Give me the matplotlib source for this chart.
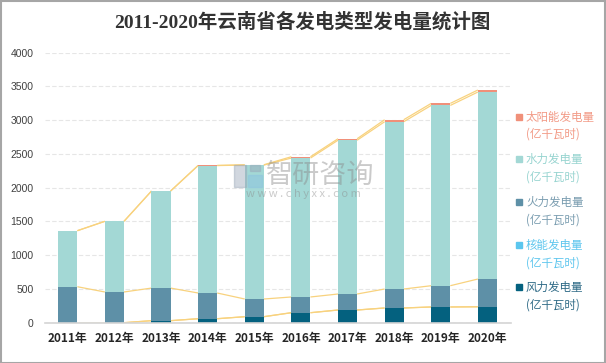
import matplotlib
matplotlib.use("Agg")
import matplotlib.pyplot as plt
from matplotlib.patches import Rectangle
import numpy as np

plt.rcParams['font.family'] = ['Noto Sans CJK SC', 'DejaVu Sans']

years = ["2011年", "2012年", "2013年", "2014年", "2015年", "2016年", "2017年", "2018年", "2019年", "2020年"]
wind = [0, 0, 30, 59, 89, 148, 188, 218, 233, 236]
nuclear = [0, 0, 0, 0, 0, 0, 0, 0, 0, 0]
thermal = [533, 455, 483, 381, 262, 233, 237, 281, 315, 411]
hydro = [830, 1047, 1438, 1888, 1984, 2058, 2278, 2478, 2671, 2770]
solar = [0, 0, 0, 2, 5, 20, 22, 30, 30, 30]

series_names = ["风力发电量\n(亿千瓦时)", "核能发电量\n(亿千瓦时)", "火力发电量\n(亿千瓦时)",
                "水力发电量\n(亿千瓦时)", "太阳能发电量\n(亿千瓦时)"]
series_colors = ["#04617F", "#5BC6EE", "#5E90A7", "#A3D8D5", "#F0907A"]
label_colors = ["#2E6A86", "#5EC6EE", "#7A9DB0", "#97D4D0", "#F29A86"]
line_color = "#F8D27E"

W, H = 606, 363
fig = plt.figure(figsize=(W / 100, H / 100), dpi=100)
ax = fig.add_axes([44.5 / W, 1 - 322.7 / H, (510.7 - 44.5) / W, (322.7 - 52.7) / H])

x = np.arange(len(years))
bw = 0.41
data = [wind, nuclear, thermal, hydro, solar]
bottom = np.zeros(len(years))
cums = []
for vals, col in zip(data, series_colors):
    v = np.array(vals, dtype=float)
    ax.bar(x, v, bw, bottom=bottom, color=col, zorder=3, linewidth=0)
    bottom = bottom + v
    cums.append(bottom.copy())

# series lines (connect bar edges)
for c in cums:
    for i in range(len(years) - 1):
        ax.plot([x[i] + bw / 2, x[i + 1] - bw / 2], [c[i], c[i + 1]],
                color=line_color, lw=0.9, zorder=2, solid_capstyle='butt')

ax.set_xlim(-0.5, len(years) - 0.5)
ax.set_ylim(0, 4000)
ax.set_yticks(np.arange(0, 4001, 500))
ax.set_xticks(x)
ax.set_xticklabels(years, fontsize=8.5, fontweight='bold', color='#262626')
for t in ax.get_yticklabels():
    t.set_fontsize(7.5)
    t.set_color('#404040')
    t.set_family(['Liberation Sans', 'DejaVu Sans'])
ax.tick_params(axis='both', length=0)
ax.tick_params(axis='y', pad=8)
ax.tick_params(axis='x', pad=7)
ax.yaxis.grid(True, color='#E6E6E6', linestyle=(0, (4, 2)), lw=0.8, zorder=0)
for s in ['top', 'right', 'left']:
    ax.spines[s].set_visible(False)
ax.spines['bottom'].set_color('#D4D4D4')
ax.spines['bottom'].set_linewidth(1.2)
ax.spines['bottom'].set_zorder(4)

# title
fig.text(302 / W, 1 - 22 / H, "2011-2020年云南省各发电类型发电量统计图", ha='center', va='center',
         fontsize=14, fontweight='bold', color='#333333',
         family=['Liberation Serif', 'Noto Sans CJK SC'])

# legend (manual)
order = [4, 3, 2, 1, 0]
y0 = 116.5
for k, idx in enumerate(order):
    yy = y0 + k * 42.7
    fig.patches.append(Rectangle((515.5 / W, 1 - (yy + 3) / H), 6 / W, 6 / H,
                                 transform=fig.transFigure, color=series_colors[idx], figure=fig))
    fig.text(526 / W, 1 - (yy - 6) / H, series_names[idx], ha='left', va='top',
             fontsize=8.3, color=label_colors[idx], linespacing=1.45)

# watermark
wm_col = '#8A8A8A'
fig.text(320 / W, 1 - 175 / H, "智研咨询", ha='center', va='center', fontsize=19.5,
         color=wm_col, alpha=0.45, zorder=10)
fig.text(303 / W, 1 - 194 / H, "w w w . c h y x x . c o m", ha='center', va='center', fontsize=8,
         color=wm_col, alpha=0.45, zorder=10)
fig.patches.append(Rectangle((234 / W, 1 - 187 / H), 12 / W, 22 / H, transform=fig.transFigure,
                             color='#9AA7B8', alpha=0.45, figure=fig, zorder=10))
fig.patches.append(Rectangle((248 / W, 1 - 187 / H), 14 / W, 12 / H, transform=fig.transFigure,
                             color='#8CC3E0', alpha=0.5, figure=fig, zorder=10))
fig.patches.append(Rectangle((250 / W, 1 - 171 / H), 10 / W, 6 / H, transform=fig.transFigure,
                             color='#9AA7B8', alpha=0.45, figure=fig, zorder=10))

# border
fig.patches.append(Rectangle((0.5 / W, 0.5 / H), (W - 1.5) / W, (H - 1.5) / H, transform=fig.transFigure,
                             fill=False, edgecolor='#A6A6A6', lw=1.5, figure=fig))

fig.savefig("out.png", dpi=100)
